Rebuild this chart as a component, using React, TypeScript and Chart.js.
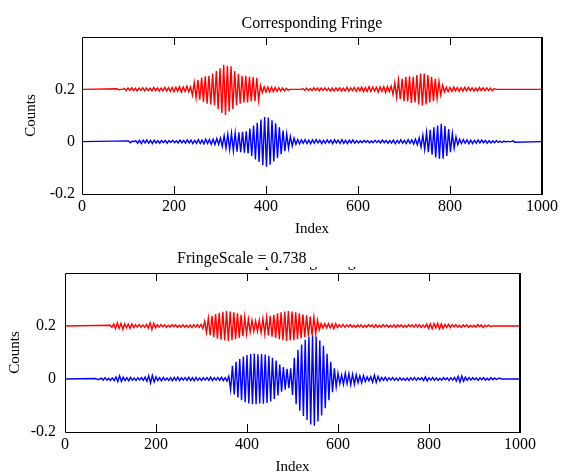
import React, { useEffect, useRef } from "react";
import { Chart, registerables } from "chart.js";

Chart.register(...registerables);

// ---------- axes ----------
const X_MIN = 0;
const X_MAX = 1000;
const X_TICKS = [0, 200, 400, 600, 800, 1000];
const X_TICK_LABELS = ["0", "200", "400", "600", "800", "1000"];
const Y_MIN = -0.2;
const Y_MAX = 0.4;
const Y_TICKS = [-0.2, 0, 0.2];
const Y_TICK_LABELS = ["-0.2", "0", "0.2"];

const Y_TITLE = "Counts";
const X_TITLE = "Index";
const TOP_TITLE = "Corresponding Fringe";
const BOTTOM_TITLE = "Corresponding Fringe";
const BOTTOM_LABEL = "FringeScale = 0.738";

// ---------- data: fringe extremes (milli-counts), one per half cycle ----------
const HALF_CYCLE = 4; // index units between successive extremes
const RED_BASELINE = 0.2;
const BLUE_BASELINE = 0;

// upper panel, red trace
const topRedStart = 76;
const topRedMilli = [
  2, -2, 0, 0, 4, -5, 5, -4, 6, -5, 4,
  -6, 5, -4, 6, -6, 5, -5, 4, -6, 7,
  -5, 6, -7, 5, -6, 8, -7, 6, -8, 7,
  -9, 8, -7, 10, -11, 9, -8, 12, -10, 9,
  -22, 26, -32, 36, -40, 45, -48, 50, -55, 52,
  -58, 60, -62, 70, -75, 80, -90, 94, -98, 90,
  -85, 88, -75, 70, -62, 58, -55, 52, -50, 52,
  -50, 48, -46, 47, -45, 44, -42, 15, -12, 10,
  -11, 9, -10, 8, -9, 7, -8, 6, -7, 5,
  -6, 4, -3, 0, 0, 0, 0, 0, 0, 0,
  3, -4, 5, -4, 3, -5, 6, -4, 5, -6,
  5, -4, 6, -5, 4, -6, 5, -7, 6, -5,
  6, -7, 5, -6, 8, -7, 6, -5, 7, -8,
  7, -6, 8, -9, 7, -8, 10, -8, 9, -7,
  8, -10, 9, -8, 10, -12, 11, -9, 12, -20,
  25, -30, 35, -38, 40, -45, 48, -46, 50, -52,
  48, -50, 55, -58, 60, -62, 60, -58, 55, -50,
  48, -45, 40, -35, 30, -22, 15, -10, 8, -9,
  7, -8, 9, -6, 7, -8, 6, -7, 8, -6,
  7, -5, 6, -7, 5, -6, 7, -5, 6, -5,
  6, -5, 4, -6, 3, 0,
];

// upper panel, blue trace
const topBlueStart = 101;
const topBlueMilli = [
  3, -4, 2, 0, 4, -6, 5, -7, 6, -5,
  7, -6, 5, -7, 6, -5, 4, -6, 5, -4,
  5, -6, 4, -3, 5, -4, 3, -5, 6, -4,
  5, -6, 7, -5, 6, -7, 5, -6, 8, -7,
  6, -8, 9, -7, 8, -10, 9, -11, 12, -10,
  14, -18, 22, -25, 28, -30, 32, -35, 33, -38,
  36, -40, 38, -42, 40, -45, 50, -55, 62, -68,
  72, -78, 85, -90, 94, -96, 92, -88, 82, -76,
  70, -62, 55, -48, 42, -36, 30, -25, 20, -16,
  13, -10, 8, -9, 7, -6, 8, -7, 6, -8,
  7, -6, 8, -5, 6, -7, 5, -6, 7, -5,
  6, -8, 7, -5, 6, -7, 8, -6, 5, -7,
  6, -5, 7, -6, 4, -5, 3, -4, 5, -3,
  4, -5, 3, -4, 5, -3, 4, -5, 6, -4,
  5, -6, 4, -5, 6, -7, 5, -6, 7, -6,
  5, -7, 8, -6, 7, -9, 10, -12, 15, -20,
  25, -30, 35, -40, 45, -50, 55, -60, 62, -65,
  68, -65, 60, -55, 48, -40, 32, -25, 18, -12,
  9, -7, 8, -6, 7, -8, 6, -7, 5, -6,
  7, -5, 6, -4, 5, -6, 4, -5, 3, -4,
  4, -3, 2, -3, 2, -1, 1, 0, 0, 3, -2,
];

// lower panel, red trace
const bottomRedStart = 99;
const bottomRedMilli = [
  3, -5, 8, -10, 12, -9, 10, -12, 8, -6,
  7, -9, 8, -6, 5, -4, 6, -5, 4, -5,
  6, -8, 12, -14, 10, -7, 5, -4, 5, -3,
  4, -5, 3, -4, 5, -3, 4, -5, 3, -4,
  5, -4, 3, -5, 4, -6, 5, -4, 6, -5,
  6, -10, 18, -25, 30, -35, 38, -42, 45, -48,
  50, -52, 54, -55, 56, -56, 55, -54, 52, -50,
  48, -45, 42, -38, 34, -30, 26, -23, 21, -20,
  19, -20, 22, -25, 28, -30, 33, -36, 38, -40,
  42, -45, 48, -50, 52, -54, 55, -56, 56, -55,
  55, -54, 52, -50, 48, -46, 44, -42, 40, -38,
  36, -35, 33, -30, 22, -14, 10, -8, 9, -7,
  9, -7, 8, -10, 9, -6, 5, -4, 6, -5,
  4, -3, 5, -4, 3, -5, 4, -3, 4, -5,
  3, -4, 5, -3, 4, -6, 5, -4, 3, -4,
  5, -3, 4, -5, 3, -4, 5, -6, 4, -3,
  4, -5, 3, -4, 5, -3, 4, -5, 6, -4,
  5, -6, 4, -5, 7, -9, 8, -10, 9, -7,
  10, -11, 8, -9, 6, -5, 7, -6, 5, -4,
  5, -4, 3, -5, 4, -3, 4, -5, 3, -4,
  3, -4, 5, -3, 4, -6, 3, -2, 3, -2, 0,
];

// lower panel, blue trace
const bottomBlueStart = 68;
const bottomBlueMilli = [
  2, -3, 0, 3, -4, 5, -4, 3, -5, 4,
  -6, 8, -10, 12, -9, 7, -6, 5, -7, 6,
  -5, 4, -6, 5, -4, 6, -5, 7, -9, 12,
  -15, 14, -11, 8, -6, 5, -7, 6, -5, 4,
  -6, 5, -7, 6, -5, 7, -6, 5, -4, 6,
  -5, 7, -6, 5, -7, 6, -5, 4, -6, 5,
  -4, 6, -5, 7, -6, 5, -4, 6, -5, 7,
  -6, 5, -8, 10, -40, 50, -58, 65, -70, 75,
  -80, 85, -88, 90, -92, 94, -95, 96, -95, 93,
  -92, 94, -93, 92, -90, 88, -85, 80, -75, 70,
  -62, 55, -48, 45, -40, 38, -35, 40, -60, 80,
  -95, 110, -120, 130, -140, 148, -155, 160, -172, 165,
  -176, 160, -160, 145, -138, 125, -110, 95, -80, 65,
  -50, 40, -30, 22, -18, 15, -20, 22, -18, 20,
  -22, 18, -20, 16, -14, 12, -15, 13, -10, 8,
  -7, 9, -12, 15, -13, 10, -8, 6, -5, 7,
  -6, 5, -4, 6, -5, 4, -6, 5, -4, 3,
  -5, 4, -6, 5, -4, 6, -5, 4, -3, 5,
  -6, 8, -7, 5, -4, 6, -5, 4, -5, 3,
  -4, 5, -3, 4, -6, 5, -4, 6, -8, 10,
  -12, 11, -9, 7, -5, 6, -4, 5, -3, 4,
  -5, 4, -3, 5, -4, 3, -4, 5, -3, 4,
  -2, 2, 3, 0,
];

const RED = "#ff0000";
const BLUE = "#0000ff";
const FONT_FAMILY = '"Liberation Serif", "Times New Roman", serif';
const TICK_SIZE = 16;
const AXIS_TITLE_SIZE = 15;
const TITLE_SIZE = 16;

function toPoints(start: number, milli: number[], base: number) {
  const pts: { x: number; y: number }[] = [{ x: X_MIN, y: base }];
  milli.forEach((v, i) => pts.push({ x: start + i * HALF_CYCLE, y: base + v / 1000 }));
  pts.push({ x: X_MAX, y: base });
  return pts;
}

type Panel = {
  width: number;
  height: number;
  padLeft: number;
  padRight: number;
  padTop: number;
  yWidth: number;
  xHeight: number;
  yTickPad: number;
  xTickPad: number;
  yTitlePad: number;
  xTitlePad: number;
  red: { x: number; y: number }[];
  blue: { x: number; y: number }[];
  drawTitle: (chart: any) => void;
};

function makeFramePlugin(p: Panel) {
  return {
    id: "frameAndTitle",
    afterDatasetsDraw(chart: any) {
      const { ctx, chartArea: a, scales } = chart;
      ctx.save();
      ctx.strokeStyle = "#000";
      ctx.lineWidth = 1;
      ctx.beginPath();
      ctx.moveTo(a.left + 0.5, a.top + 0.5);
      ctx.lineTo(a.right, a.top + 0.5);
      ctx.moveTo(a.left + 0.5, a.top + 0.5);
      ctx.lineTo(a.left + 0.5, a.bottom + 0.5);
      ctx.lineTo(a.right, a.bottom + 0.5);
      const xs = scales.x;
      xs.ticks.forEach((t: any) => {
        if (t.value <= X_MIN || t.value >= X_MAX) return;
        const px = Math.round(xs.getPixelForValue(t.value)) + 0.5;
        ctx.moveTo(px, a.top);
        ctx.lineTo(px, a.top + 8);
        ctx.moveTo(px, a.bottom + 1);
        ctx.lineTo(px, a.bottom - 8);
      });
      ctx.stroke();
      ctx.fillStyle = "#000";
      ctx.fillRect(a.right - 1, a.top, 2, a.bottom - a.top + 1);
      ctx.restore();
    },
    afterDraw(chart: any) {
      p.drawTitle(chart);
    },
  };
}

function makeConfig(p: Panel): any {
  return {
    type: "scatter",
    data: {
      datasets: [
        {
          data: p.red,
          showLine: true,
          borderColor: RED,
          borderWidth: 1.4,
          pointRadius: 0,
          tension: 0,
        },
        {
          data: p.blue,
          showLine: true,
          borderColor: BLUE,
          borderWidth: 1.4,
          pointRadius: 0,
          tension: 0,
        },
      ],
    },
    options: {
      responsive: false,
      animation: false,
      events: [],
      layout: { padding: { left: p.padLeft, right: p.padRight, top: p.padTop, bottom: 0 } },
      plugins: { legend: { display: false }, title: { display: false }, tooltip: { enabled: false } },
      scales: {
        x: {
          type: "linear",
          min: X_MIN,
          max: X_MAX,
          grid: { display: false, drawTicks: false },
          border: { display: false },
          afterBuildTicks: (s: any) => {
            s.ticks = X_TICKS.map((v) => ({ value: v }));
          },
          afterFit: (s: any) => {
            s.height = p.xHeight;
          },
          ticks: {
            autoSkip: false,
            maxRotation: 0,
            padding: p.xTickPad,
            color: "#000",
            font: { family: FONT_FAMILY, size: TICK_SIZE },
            callback: (_v: any, i: number) => X_TICK_LABELS[i],
          },
          title: {
            display: true,
            text: X_TITLE,
            color: "#000",
            font: { family: FONT_FAMILY, size: AXIS_TITLE_SIZE },
            padding: { top: 0, bottom: p.xTitlePad },
          },
        },
        y: {
          type: "linear",
          min: Y_MIN,
          max: Y_MAX,
          grid: { display: false, drawTicks: false },
          border: { display: false },
          afterBuildTicks: (s: any) => {
            s.ticks = Y_TICKS.map((v) => ({ value: v }));
          },
          afterFit: (s: any) => {
            s.width = p.yWidth;
          },
          ticks: {
            autoSkip: false,
            padding: p.yTickPad,
            color: "#000",
            font: { family: FONT_FAMILY, size: TICK_SIZE },
            callback: (_v: any, i: number) => Y_TICK_LABELS[i],
          },
          title: {
            display: true,
            text: Y_TITLE,
            color: "#000",
            font: { family: FONT_FAMILY, size: AXIS_TITLE_SIZE },
            padding: { top: p.yTitlePad, bottom: 0 },
          },
        },
      },
    },
  };
}

const topPanel: Panel = {
  width: 567,
  height: 238,
  padLeft: 0,
  padRight: 25,
  padTop: 37,
  yWidth: 82,
  xHeight: 44,
  yTickPad: 7,
  xTickPad: 3,
  yTitlePad: 22,
  xTitlePad: 0,
  red: toPoints(topRedStart, topRedMilli, RED_BASELINE),
  blue: toPoints(topBlueStart, topBlueMilli, BLUE_BASELINE),
  drawTitle: (chart: any) => {
    const { ctx, chartArea: a } = chart;
    ctx.save();
    ctx.fillStyle = "#000";
    ctx.font = `${TITLE_SIZE}px ${FONT_FAMILY}`;
    ctx.textAlign = "center";
    ctx.textBaseline = "alphabetic";
    ctx.fillText(TOP_TITLE, (a.left + a.right) / 2, 28);
    ctx.restore();
  },
};

const bottomPanel: Panel = {
  width: 567,
  height: 238,
  padLeft: 0,
  padRight: 47,
  padTop: 35,
  yWidth: 65,
  xHeight: 44,
  yTickPad: 9,
  xTickPad: 3,
  yTitlePad: 6,
  xTitlePad: 0,
  red: toPoints(bottomRedStart, bottomRedMilli, RED_BASELINE),
  blue: toPoints(bottomBlueStart, bottomBlueMilli, BLUE_BASELINE),
  drawTitle: (chart: any) => {
    const { ctx, chartArea: a } = chart;
    ctx.save();
    ctx.fillStyle = "#000";
    ctx.font = `${TITLE_SIZE}px ${FONT_FAMILY}`;
    ctx.textAlign = "center";
    ctx.textBaseline = "alphabetic";
    // title mostly hidden behind the FringeScale label: only descenders show
    ctx.fillText(BOTTOM_TITLE, (a.left + a.right) / 2, 28);
    ctx.fillStyle = "#fff";
    ctx.fillRect(0, 0, chart.width, 29);
    ctx.fillStyle = "#000";
    ctx.textAlign = "left";
    ctx.fillText(BOTTOM_LABEL, 177, 25);
    ctx.restore();
  },
};

function PanelChart({ panel, top }: { panel: Panel; top: number }) {
  const ref = useRef<HTMLCanvasElement | null>(null);
  useEffect(() => {
    if (!ref.current) return;
    const chart = new Chart(ref.current, {
      ...makeConfig(panel),
      plugins: [makeFramePlugin(panel)],
    });
    return () => chart.destroy();
  }, [panel]);
  return (
    <canvas
      ref={ref}
      width={panel.width}
      height={panel.height}
      style={{ position: "absolute", left: 0, top, display: "block", width: panel.width, height: panel.height }}
    />
  );
}

export default function App() {
  return (
    <div
      style={{
        position: "absolute",
        left: 0,
        top: 0,
        width: 567,
        height: 476,
        background: "#fff",
        overflow: "hidden",
      }}
    >
      <PanelChart panel={topPanel} top={0} />
      <PanelChart panel={bottomPanel} top={238} />
    </div>
  );
}
